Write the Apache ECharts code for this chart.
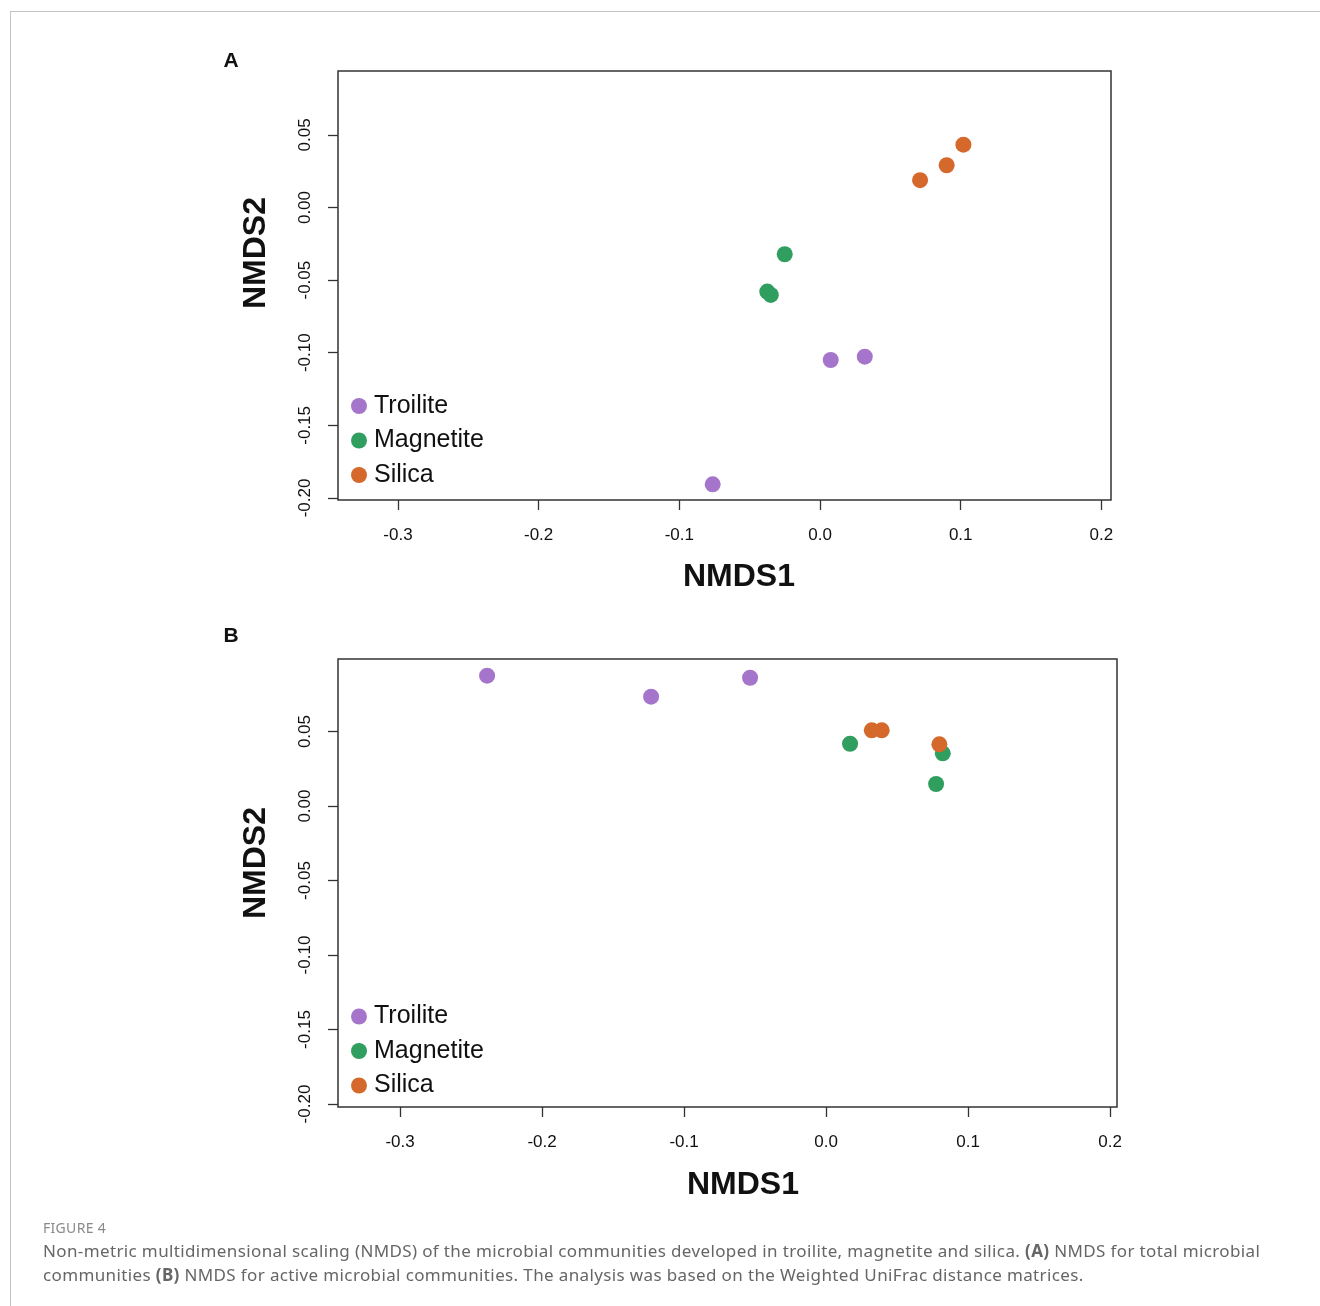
<!DOCTYPE html>
<html lang="en">
<head>
    <meta charset="UTF-8" />
    <title>Figure 4 - NMDS</title>
    <script src="https://cdn.jsdelivr.net/npm/echarts@6/dist/echarts.min.js"></script>
    <style>
        body { margin: 0; background: #fff; }
        #frame { position: absolute; left: 10px; top: 11px; width: 1320px; height: 1310px; border-top: 1px solid #c4c4c4; border-left: 1px solid #c4c4c4; }
        #chart { position: absolute; left: 0; top: 0; width: 1320px; height: 1306px; }
        .caption { position: absolute; left: 43px; font-family: "Noto Sans", sans-serif; color: #666; }
        #figLabel { top: 1218px; font-size: 14px; letter-spacing: 0.3px; color: #8a8a8a; }
        #figText { top: 1239px; font-size: 17px; letter-spacing: 0.37px; line-height: 24px; width: 1280px; white-space: nowrap; }
    </style>
</head>
<body>
<div id="frame"></div>
<div id="chart"></div>
<div id="figLabel" class="caption">FIGURE 4</div>
<div id="figText" class="caption">Non-metric multidimensional scaling (NMDS) of the microbial communities developed in troilite, magnetite and silica. <b>(A)</b> NMDS for total microbial<br>communities <b>(B)</b> NMDS for active microbial communities. The analysis was based on the Weighted UniFrac distance matrices.</div>

<script>
    // 样本组
    const groups = ['Troilite', 'Magnetite', 'Silica'];
    const groupColors = ['#a575cb', '#2f9e5e', '#d4692b'];

    // 刻度
    const xTicks = [-0.3, -0.2, -0.1, 0.0, 0.1, 0.2];
    const yTicks = [0.05, 0.00, -0.05, -0.10, -0.15, -0.20];

    // A: total microbial communities  [NMDS1, NMDS2]
    const totalTroilite = [[0.0076, -0.1050], [0.0318, -0.1027], [-0.0763, -0.1906]];
    const totalMagnetite = [[-0.0251, -0.0322], [-0.0375, -0.0579], [-0.0350, -0.0602]];
    const totalSilica = [[0.1019, 0.0433], [0.0900, 0.0291], [0.0711, 0.0188]];

    // B: active microbial communities
    const activeTroilite = [[-0.2387, 0.0875], [-0.1232, 0.0734], [-0.0535, 0.0861]];
    const activeMagnetite = [[0.0169, 0.0418], [0.0822, 0.0354], [0.0775, 0.0148]];
    const activeSilica = [[0.0322, 0.0508], [0.0392, 0.0508], [0.0798, 0.0414]];

    const panels = [
        { tag: 'A', grid: { left: 338, top: 71, width: 773, height: 429 },
          xRange: [-0.3426, 0.2068], yRange: [-0.2014, 0.094],
          data: [totalTroilite, totalMagnetite, totalSilica],
          tagPos: [231, 61], xName: [739, 577], yName: [256, 253], legendTop: 393.5 },
        { tag: 'B', grid: { left: 338, top: 659, width: 779, height: 448 },
          xRange: [-0.3437, 0.2049], yRange: [-0.202, 0.0987],
          data: [activeTroilite, activeMagnetite, activeSilica],
          tagPos: [231, 636], xName: [743, 1185], yName: [256, 863], legendTop: 1004 }
    ];

    const font = '"Liberation Sans", Arial, sans-serif';
    const tickStyle = { show: true, inside: false, length: 10, lineStyle: { color: '#333', width: 1.3 } };

    const grids = [], xAxes = [], yAxes = [], series = [], legends = [], graphics = [];

    panels.forEach((p, i) => {
        grids.push(Object.assign({ show: true, borderColor: '#333', borderWidth: 1.5, containLabel: false }, p.grid));

        xAxes.push({
            gridIndex: i, type: 'value', min: p.xRange[0], max: p.xRange[1],
            axisLine: { show: false, onZero: false },
            axisTick: Object.assign({ customValues: xTicks }, tickStyle),
            axisLabel: { customValues: xTicks, margin: 27, fontSize: 17, fontFamily: font, color: '#111',
                formatter: v => v.toFixed(1) },
            splitLine: { show: false }
        });

        yAxes.push({
            gridIndex: i, type: 'value', min: p.yRange[0], max: p.yRange[1],
            axisLine: { show: false, onZero: false },
            axisTick: Object.assign({ customValues: yTicks }, tickStyle),
            axisLabel: { customValues: yTicks, rotate: 90, margin: 24, fontSize: 17, fontFamily: font, color: '#111',
                formatter: v => v.toFixed(2) },
            splitLine: { show: false }
        });

        groups.forEach((g, k) => {
            series.push({
                name: g, type: 'scatter', xAxisIndex: i, yAxisIndex: i,
                data: p.data[k], symbolSize: 16,
                itemStyle: { color: groupColors[k], opacity: 1 },
                silent: true
            });
        });

        legends.push({
            data: groups.map(g => ({ name: g, icon: 'circle' })),
            orient: 'vertical', left: 351, top: p.legendTop, padding: 0,
            itemWidth: 16, itemHeight: 16, itemGap: 9.5,
            selectedMode: false,
            textStyle: { fontSize: 25, lineHeight: 25, fontFamily: font, color: '#111', padding: [0, 0, 0, 2] }
        });

        graphics.push(
            { type: 'text', x: p.tagPos[0], y: p.tagPos[1],
              style: { text: p.tag, font: 'bold 21px ' + font, fill: '#111', align: 'center', verticalAlign: 'middle' } },
            { type: 'text', x: p.xName[0], y: p.xName[1],
              style: { text: 'NMDS1', font: 'bold 32px ' + font, fill: '#111', align: 'center', verticalAlign: 'middle' } },
            { type: 'text', x: p.yName[0], y: p.yName[1], rotation: Math.PI / 2,
              style: { text: 'NMDS2', font: 'bold 32px ' + font, fill: '#111', align: 'center', verticalAlign: 'middle' } }
        );
    });

    const chart = echarts.init(document.getElementById('chart'));
    chart.setOption({
        animation: false,
        grid: grids,
        xAxis: xAxes,
        yAxis: yAxes,
        legend: legends,
        series: series,
        graphic: graphics
    });
</script>
</body>
</html>
